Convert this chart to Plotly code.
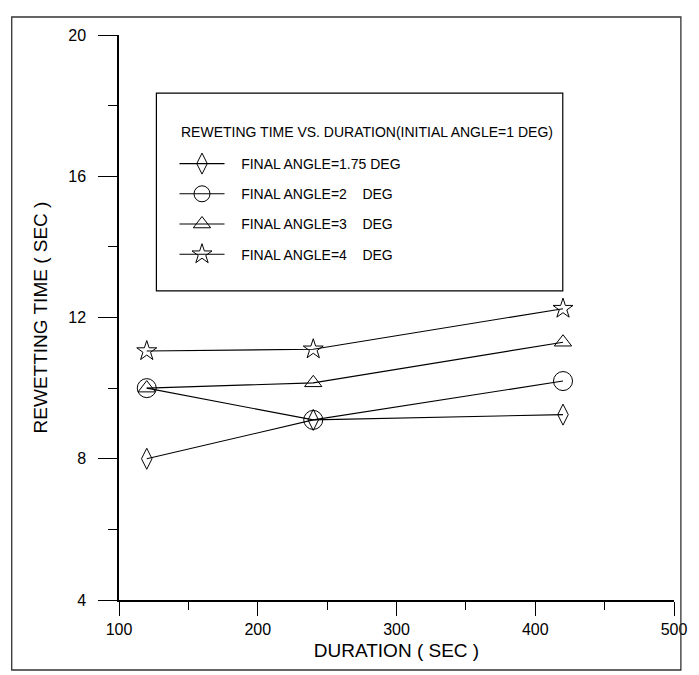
import plotly.graph_objects as go

# Duration (s) at which each run was taken
duration = [120, 240, 420]

# Rewetting time (s) for each final angle
rewet_175 = [8.0, 9.1, 9.25]
rewet_2 = [10.0, 9.1, 10.2]
rewet_3 = [10.0, 10.15, 11.3]
rewet_4 = [11.05, 11.1, 12.25]

GAP = "&nbsp;&nbsp;&nbsp;"
series_names = [
    GAP + "FINAL ANGLE=1.75 DEG",
    GAP + "FINAL ANGLE=2&nbsp;&nbsp;&nbsp;&nbsp;DEG",
    GAP + "FINAL ANGLE=3&nbsp;&nbsp;&nbsp;&nbsp;DEG",
    GAP + "FINAL ANGLE=4&nbsp;&nbsp;&nbsp;&nbsp;DEG",
]
series_values = [rewet_175, rewet_2, rewet_3, rewet_4]
symbols = ["diamond-tall-open", "circle-open", "triangle-up-open", "star-open"]
sizes = [15, 19, 15, 15]

x_ticks = [100, 200, 300, 400, 500]
y_ticks = [4, 8, 12, 16, 20]

FONT = "Liberation Sans, Arial, sans-serif"

fig = go.Figure()
for i, (name, vals, sym, sz) in enumerate(zip(series_names, series_values, symbols, sizes)):
    fig.add_trace(go.Scatter(
        x=duration, y=vals, name=name, mode="lines+markers",
        legendgroup=f"g{i}",
        line=dict(color="black", width=1.1),
        marker=dict(symbol=sym, size=sz, color="black",
                    line=dict(color="black", width=1)),
    ))

fig.update_layout(
    width=699, height=675,
    margin=dict(l=119, r=16, t=35, b=75),
    paper_bgcolor="white", plot_bgcolor="white",
    font=dict(family=FONT, color="black"),
    showlegend=True,
    legend=dict(
        x=0.100, y=0.80, xanchor="left", yanchor="top",
        bgcolor="rgba(0,0,0,0)", borderwidth=0,
        font=dict(family=FONT, size=14, color="black"),
        tracegroupgap=9, itemwidth=45,
    ),
    xaxis=dict(
        range=[100, 500], tickvals=x_ticks, ticktext=[str(v) for v in x_ticks],
        showgrid=False, zeroline=False,
        showline=True, linecolor="black", linewidth=1.5,
        ticks="outside", ticklen=14, tickwidth=1.2, tickcolor="black",
        minor=dict(ticks="outside", ticklen=8, dtick=50, tickcolor="black", tickwidth=1),
        tickfont=dict(family=FONT, size=16, color="black"),
        title=dict(text="DURATION ( SEC )", font=dict(family=FONT, size=19, color="black"),
                   standoff=7),
    ),
    yaxis=dict(
        range=[4, 20], tickvals=y_ticks, ticktext=[str(v) for v in y_ticks],
        showgrid=False, zeroline=False,
        showline=True, linecolor="black", linewidth=1.5,
        ticks="outside", ticklen=19, tickwidth=1.2, tickcolor="black",
        ticklabelstandoff=9,
        minor=dict(ticks="outside", ticklen=9, dtick=2, tickcolor="black", tickwidth=1),
        tickfont=dict(family=FONT, size=16, color="black"),
        title=dict(text="REWETTING TIME ( SEC )", font=dict(family=FONT, size=19, color="black"),
                   standoff=16),
    ),
    shapes=[
        # legend box
        dict(type="rect", xref="paper", yref="paper",
             x0=0.0674, x1=0.7996, y0=0.547, y1=0.897,
             line=dict(color="black", width=1.2)),
        # outer frame
        dict(type="rect", xref="paper", yref="paper",
             x0=-0.1933, x1=1.0124, y0=-0.1239, y1=1.0319,
             line=dict(color="#333333", width=1.3)),
    ],
    annotations=[
        dict(text="REWETING TIME VS. DURATION(INITIAL ANGLE=1 DEG)",
             xref="paper", yref="paper", x=0.1082, y=(600 - 132) / 565,
             xanchor="left", yanchor="middle", showarrow=False,
             font=dict(family=FONT, size=14, color="black")),
    ],
)

fig.write_html("out.html")
